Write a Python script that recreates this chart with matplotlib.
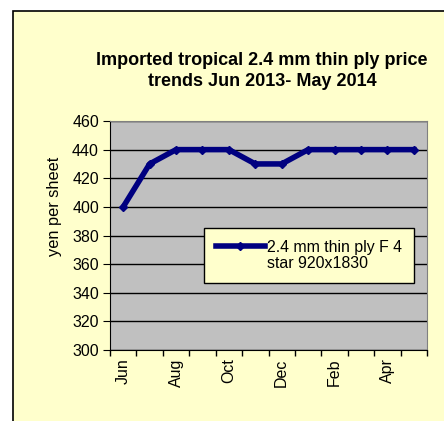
import matplotlib.pyplot as plt
from matplotlib.patches import Rectangle
from matplotlib.legend_handler import HandlerLine2D

plt.rcParams['font.family'] = ['Liberation Sans', 'DejaVu Sans']

months = ['Jun', 'Jul', 'Aug', 'Sep', 'Oct', 'Nov', 'Dec', 'Jan', 'Feb', 'Mar', 'Apr', 'May']
prices = [400, 430, 440, 440, 440, 430, 430, 440, 440, 440, 440, 440]
series_label = '2.4 mm thin ply F 4\nstar 920x1830'
title = 'Imported tropical 2.4 mm thin ply price\ntrends Jun 2013- May 2014'


class TopLineHandler(HandlerLine2D):
    # put the legend line next to the first text line, like Excel does
    def create_artists(self, legend, orig_handle, xdescent, ydescent,
                       width, height, fontsize, trans):
        arts = super().create_artists(legend, orig_handle, xdescent, ydescent,
                                      width, height, fontsize, trans)
        for a in arts:
            xs, ys = a.get_data()
            a.set_data(xs, [y + fontsize * 0.6 for y in ys])
        return arts


W, H = 444, 421
fig = plt.figure(figsize=(W / 100, H / 100), dpi=100, facecolor='white')

# yellow chart area with black frame, cut off at right/bottom
fig.patches.append(Rectangle((13 / W, -0.05), 1.1, (H - 11) / H + 0.05,
                             transform=fig.transFigure, facecolor='#FFFFCC',
                             edgecolor='black', linewidth=1.2, zorder=-5))

ax = fig.add_axes([110 / W, 1 - 350 / H, (427 - 110) / W, (350 - 121) / H])
ax.set_facecolor('#C0C0C0')

x = list(range(len(months)))
ax.plot(x, prices, color='#000080', linewidth=4, marker='D', markersize=4,
        label=series_label, zorder=3)

ax.set_xlim(-0.5, len(months) - 0.5)
ax.set_ylim(300, 460)
ax.set_yticks(range(300, 461, 20))
ax.yaxis.grid(True, color='black', linewidth=1)
ax.set_axisbelow(True)

ax.set_xticks([i - 0.5 for i in range(len(months) + 1)])
ax.set_xticklabels([])
ax.set_xticks(x[::2], minor=True)
ax.set_xticklabels(months[::2], minor=True, rotation=90)
ax.tick_params(axis='x', which='minor', length=0, pad=6, labelsize=11.5)
ax.tick_params(axis='x', which='major', length=4, direction='out', width=1)
ax.tick_params(axis='y', length=5, direction='out', labelsize=11.5, pad=3)

for s in ['top', 'right']:
    ax.spines[s].set_color('#808080')
ax.spines['left'].set_color('black')
ax.spines['bottom'].set_color('black')

ax.set_ylabel('yen per sheet', fontsize=11.8)
ax.yaxis.set_label_coords((62 - 110) / 317, (350 - 206) / 229)

fig.text(262 / W, 1 - 71 / H, title, ha='center', va='center',
         fontsize=13, fontweight='bold', linespacing=1.3)

leg = ax.legend(loc='upper left', bbox_to_anchor=((204 - 110) / 317, (350 - 228) / 229),
                frameon=True, fancybox=False, fontsize=11.4, handlelength=3.1,
                handletextpad=0.13, borderpad=0.75, borderaxespad=0,
                handler_map={plt.Line2D: TopLineHandler()})
leg.get_frame().set_facecolor('#FFFFCC')
leg.get_frame().set_edgecolor('black')
leg.get_frame().set_alpha(1)
for t in leg.get_texts():
    t.set_multialignment('left')
    t.set_linespacing(1.1)

fig.savefig('out.png', dpi=100)
